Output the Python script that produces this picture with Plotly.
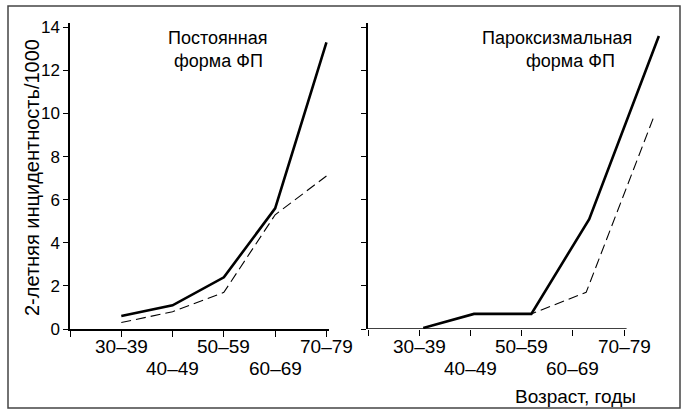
import plotly.graph_objects as go

categories = ["30–39", "40–49", "50–59", "60–69", "70–79"]
cat_idx = [0, 1, 2, 3, 4]

# Постоянная форма ФП
perm_1 = [0.6, 1.1, 2.4, 5.6, 13.3]
perm_2 = [0.3, 0.8, 1.7, 5.3, 7.1]

# Пароксизмальная форма ФП (points drawn slightly right of the ticks in the original)
parox_x1 = [0.08, 1.07, 2.19, 3.32, 4.68]
parox_1 = [0.05, 0.7, 0.7, 5.1, 13.6]
parox_x2 = [0.08, 1.07, 2.19, 3.26, 4.59]
parox_2 = [0.05, 0.7, 0.7, 1.7, 9.9]

y_ticks = [0, 2, 4, 6, 8, 10, 12, 14]

FONT = "Liberation Sans"
W, H = 683, 410
ML, MR, MT, MB = 70, 18, 23, 81
pw = W - ML - MR
ph = H - MT - MB

fig = go.Figure()
solid = dict(color="black", width=2.6)
dashed = dict(color="black", width=1.1, dash="10px,5px")

fig.add_trace(go.Scatter(x=cat_idx, y=perm_2, mode="lines", line=dashed, xaxis="x", yaxis="y", showlegend=False))
fig.add_trace(go.Scatter(x=cat_idx, y=perm_1, mode="lines", line=solid, xaxis="x", yaxis="y", showlegend=False))
fig.add_trace(go.Scatter(x=parox_x2, y=parox_2, mode="lines", line=dashed, xaxis="x2", yaxis="y2", showlegend=False))
fig.add_trace(go.Scatter(x=parox_x1, y=parox_1, mode="lines", line=solid, xaxis="x2", yaxis="y2", showlegend=False))

left_dom = [0, 259 / pw]
right_dom = [(368 - ML) / pw, 1]

xcommon = dict(
    tickmode="array", tickvals=[-1] + cat_idx, showticklabels=False,
    ticks="outside", ticklen=6, tickwidth=1.2, tickcolor="black",
    showgrid=False, zeroline=False, automargin=False,
)
ycommon = dict(
    range=[0, 14.2], tickmode="array", tickvals=y_ticks,
    ticks="outside", ticklen=5, tickwidth=1.2, tickcolor="black",
    showline=True, linecolor="black", linewidth=1.5,
    showgrid=False, zeroline=False, automargin=False,
    tickfont=dict(family=FONT, size=17, color="black"),
)

fig.update_layout(
    width=W, height=H,
    margin=dict(l=ML, r=MR, t=MT, b=MB),
    paper_bgcolor="white", plot_bgcolor="white",
    font=dict(family=FONT, color="black"),
    xaxis=dict(domain=left_dom, range=[-1, 4.05], showline=True, linecolor="black", linewidth=1.5, anchor="y", **xcommon),
    yaxis=dict(domain=[0, 1], anchor="x", showticklabels=True, **ycommon),
    xaxis2=dict(domain=right_dom, range=[-1, 4.8], showline=False, anchor="y2", **xcommon),
    yaxis2=dict(domain=[0, 1], anchor="x2", showticklabels=False, **ycommon),
)

# right x-axis baseline (stops before the lines that run past it)
fig.add_shape(type="line", xref="x2", yref="y2", x0=-1, x1=4.05, y0=0, y1=0,
              line=dict(color="black", width=1.5))

# outer frame
fig.add_shape(type="rect", xref="paper", yref="paper",
              x0=(8 - ML) / pw, x1=(680 - ML) / pw,
              y0=(MT + ph - 408) / ph, y1=(MT + ph - 6) / ph,
              line=dict(color="#444", width=1.5))

# category labels in two staggered rows
row_y = [(MT + ph - 346) / ph, (MT + ph - 368) / ph]
for xr in ["x", "x2"]:
    for i, c in enumerate(categories):
        fig.add_annotation(xref=xr, yref="paper", x=cat_idx[i], y=row_y[i % 2], text=c,
                           showarrow=False, xanchor="center", yanchor="middle",
                           font=dict(family=FONT, size=19, color="black"))

af = dict(family=FONT, size=18, color="black")
ann = [
    dict(xref="x", yref="y", x=1.87, y=13.5, text="Постоянная"),
    dict(xref="x", yref="y", x=1.9, y=12.45, text="форма ФП"),
    dict(xref="x2", yref="y2", x=2.69, y=13.5, text="Пароксизмальная"),
    dict(xref="x2", yref="y2", x=2.95, y=12.45, text="форма ФП"),
    dict(xref="x", yref="y", x=4.28, y=13.1, text="1"),
    dict(xref="x", yref="y", x=4.28, y=7.7, text="2"),
    dict(xref="x2", yref="y2", x=4.95, y=13.4, text="1"),
    dict(xref="x2", yref="y2", x=4.95, y=9.8, text="2"),
]
for a in ann:
    fig.add_annotation(showarrow=False, font=af, xanchor="center", yanchor="middle", **a)

fig.add_annotation(xref="paper", yref="paper", x=(32 - ML) / pw, y=(MT + ph - 178) / ph,
                   text="2-летняя инцидентность/1000", textangle=-90, showarrow=False,
                   font=dict(family=FONT, size=20, color="black"), xanchor="center", yanchor="middle")
fig.add_annotation(xref="paper", yref="paper", x=(575 - ML) / pw, y=(MT + ph - 396) / ph,
                   text="Возраст, годы", showarrow=False,
                   font=dict(family=FONT, size=19, color="black"), xanchor="center", yanchor="middle")

fig.write_html("out.html")
